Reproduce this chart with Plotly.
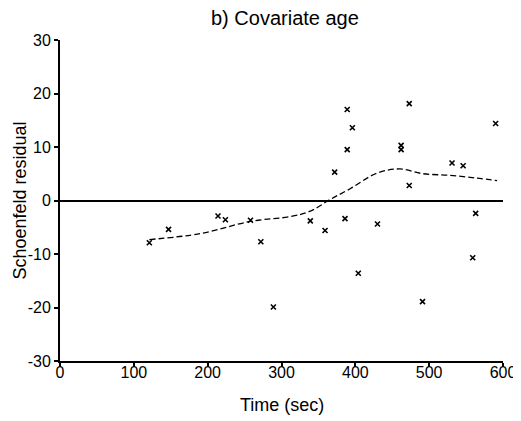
import plotly.graph_objects as go

# Schoenfeld residual points
time_pts = [121, 147, 214, 224, 258, 272, 289, 339, 359, 372, 386, 389, 389, 396,
            404, 430, 462, 462, 473, 473, 491, 531, 546, 559, 563, 590]
resid_pts = [-7.9, -5.4, -2.9, -3.6, -3.7, -7.7, -19.9, -3.8, -5.6, 5.3, -3.4, 17.0, 9.5, 13.6,
             -13.6, -4.4, 10.3, 9.5, 18.1, 2.8, -18.9, 7.0, 6.5, -10.7, -2.4, 14.4]

# Smoothed (dashed) curve
smooth_t = [121, 190, 258, 312, 339, 366, 393, 429, 460, 492, 528, 564, 592]
smooth_r = [-7.3, -6.2, -3.9, -3.0, -2.0, 0.2, 2.2, 5.1, 5.9, 5.0, 4.7, 4.2, 3.7]

x_ticks = [0, 100, 200, 300, 400, 500, 600]
y_ticks = [-30, -20, -10, 0, 10, 20, 30]

font = "Liberation Sans, Arial, sans-serif"

fig = go.Figure()
fig.add_trace(go.Scatter(x=smooth_t, y=smooth_r, mode="lines",
                         line=dict(color="black", width=1.3, dash="6px,3px", shape="spline"),
                         showlegend=False, hoverinfo="skip"))
fig.add_trace(go.Scatter(x=time_pts, y=resid_pts, mode="markers",
                         marker=dict(symbol="x-thin", size=5, color="black",
                                     line=dict(color="black", width=1.6)),
                         showlegend=False))

# page body has an 8px default margin, so the figure is sized to fill the rest
fig.update_layout(
    width=513, height=413,
    margin=dict(l=52, r=18, t=32, b=60, autoexpand=False),
    paper_bgcolor="white", plot_bgcolor="white",
    font=dict(family=font, size=16, color="black"),
    xaxis=dict(range=[0, 600], tickvals=x_ticks, ticktext=[str(v) for v in x_ticks],
               showgrid=False, zeroline=False, showline=True, linecolor="black", linewidth=2,
               ticks="outside", ticklen=4, tickwidth=2, tickcolor="black", automargin=False,
               tickfont=dict(size=16), ticklabelstandoff=-8),
    yaxis=dict(range=[-30, 30], tickvals=y_ticks, ticktext=[str(v) for v in y_ticks],
               showgrid=False, zeroline=True, zerolinecolor="black", zerolinewidth=1.5,
               showline=True, linecolor="black", linewidth=2, automargin=False,
               ticks="outside", ticklen=4, tickwidth=2, tickcolor="black",
               tickfont=dict(size=16)),
    annotations=[
        dict(text="b) Covariate age", xref="paper", yref="paper", x=0.508, y=1,
             xanchor="center", yanchor="middle", yshift=22, showarrow=False,
             font=dict(size=20)),
        dict(text="Time (sec)", xref="paper", yref="paper", x=0.5, y=0,
             xanchor="center", yanchor="middle", yshift=-44, showarrow=False,
             font=dict(size=18)),
        dict(text="Schoenfeld residual", xref="paper", yref="paper", x=0, y=0.5,
             xanchor="center", yanchor="middle", xshift=-41, textangle=-90, showarrow=False,
             font=dict(size=18)),
    ],
)

fig.write_html("out.html")
